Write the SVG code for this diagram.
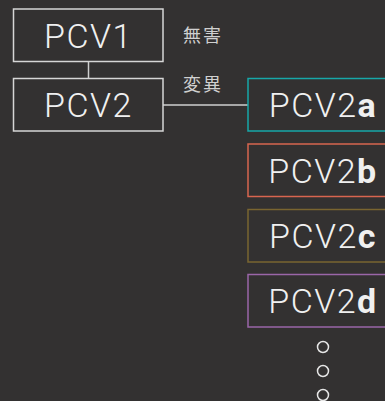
<svg xmlns="http://www.w3.org/2000/svg" width="385" height="401" viewBox="0 0 385 401">
<style>
.bg{fill:#333131}
.box{fill:none;stroke-width:1.5}
.w{stroke:#d6d6d6}
.t{font-family:Roboto,"Noto Sans",sans-serif;font-weight:300;font-size:34px;fill:#f0f0f0;text-anchor:middle;letter-spacing:1.5px}
.t tspan{font-weight:700}
.cj{font-family:"Noto Sans CJK JP",sans-serif;font-size:18px;fill:#d0d0d0;letter-spacing:2px}
.ln{stroke:#cfcfcf;stroke-width:1.5;fill:none}
.dot{fill:none;stroke:#e6e6e6;stroke-width:1.5}
</style>
<rect class="bg" x="0" y="0" width="385" height="401"/>
<g id="connectors">
<line class="ln" x1="88.5" y1="62" x2="88.5" y2="78"/>
<line class="ln" x1="163" y1="105" x2="248" y2="105"/>
</g>
<g id="pcv1">
<rect class="box w" x="13.5" y="9" width="149.5" height="52.5"/>
<text class="t" x="88.5" y="48">PCV1</text>
</g>
<g id="pcv2">
<rect class="box w" x="13.5" y="78.5" width="149.5" height="52.5"/>
<text class="t" x="88.5" y="117">PCV2</text>
</g>
<g id="label-harmless"><text class="cj" x="183" y="42">無害</text></g>
<g id="label-variant"><text class="cj" x="183" y="91">変異</text></g>
<g id="pcv2a">
<rect class="box" stroke="#17a7a8" x="248" y="78.5" width="150" height="52.5"/>
<text class="t" x="323" y="117">PCV2<tspan>a</tspan></text>
</g>
<g id="pcv2b">
<rect class="box" stroke="#d8654f" x="248" y="144" width="150" height="52.5"/>
<text class="t" x="323" y="182.5">PCV2<tspan>b</tspan></text>
</g>
<g id="pcv2c">
<rect class="box" stroke="#7a6530" x="248" y="209.5" width="150" height="52.5"/>
<text class="t" x="323" y="248">PCV2<tspan>c</tspan></text>
</g>
<g id="pcv2d">
<rect class="box" stroke="#9a66a8" x="248" y="274.5" width="150" height="52.5"/>
<text class="t" x="323" y="313">PCV2<tspan>d</tspan></text>
</g>
<g id="ellipsis">
<circle class="dot" cx="323" cy="347" r="5.5"/>
<circle class="dot" cx="323" cy="371" r="5.5"/>
<circle class="dot" cx="323" cy="395" r="5.5"/>
</g>
</svg>
